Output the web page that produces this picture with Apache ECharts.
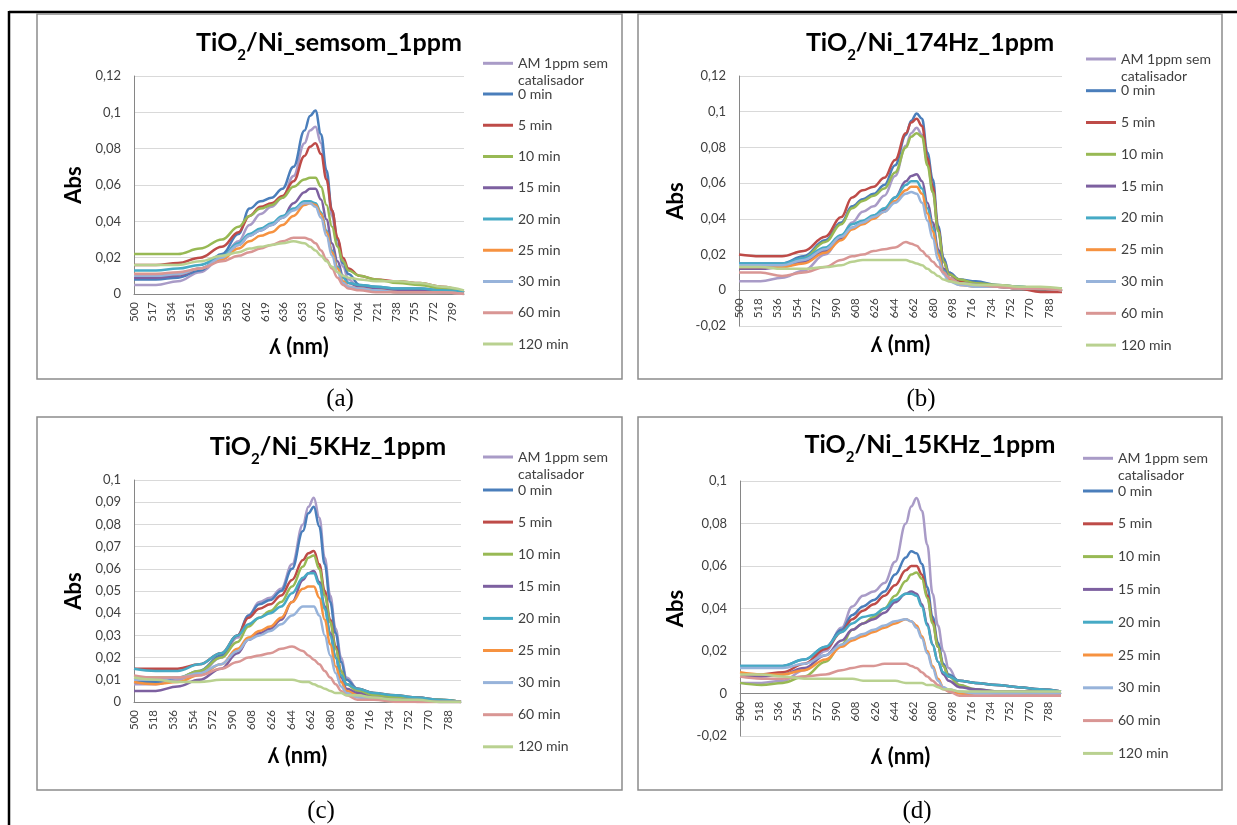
<!DOCTYPE html>
<html><head><meta charset="utf-8">
<script src="https://cdn.jsdelivr.net/npm/echarts@6/dist/echarts.min.js"></script>
<style>html,body{margin:0;padding:0;background:#fff}#c{width:1237px;height:825px}</style>
</head><body><div id="c"></div>
<script>
// ---------- DATA ----------
const wavelengths = [500,520,540,560,580,595,605,615,625,635,645,655,660,665,670,675,680,685,690,695,705,720,740,760,780,800];
const seriesNames = ['AM 1ppm sem catalisador','0 min','5 min','10 min','15 min','20 min','25 min','30 min','60 min','120 min'];
const panelNames = ['semsom','174Hz','5KHz','15KHz'];
const ticksA = [500,517,534,551,568,585,602,619,636,653,670,687,704,721,738,755,772,789];
const ticksBCD = [500,518,536,554,572,590,608,626,644,662,680,698,716,734,752,770,788];

// (a) semsom
const A_AM  = [.005,.005,.007,.012,.020,.029,.038,.044,.048,.053,.065,.083,.090,.092,.083,.064,.043,.027,.015,.008,.003,.002,.001,.001,.001,0];
const A_0   = [.008,.008,.009,.013,.022,.033,.047,.051,.053,.058,.070,.090,.098,.101,.088,.068,.046,.030,.017,.011,.005,.004,.003,.003,.002,.001];
const A_5   = [.016,.016,.017,.020,.026,.034,.043,.048,.050,.054,.062,.076,.081,.083,.077,.063,.046,.031,.020,.014,.010,.008,.007,.006,.004,.001];
const A_10  = [.022,.022,.022,.025,.030,.037,.043,.047,.049,.053,.059,.063,.064,.064,.059,.049,.037,.026,.018,.013,.010,.008,.006,.005,.003,.001];
const A_15  = [.009,.009,.010,.014,.020,.027,.032,.035,.038,.042,.050,.056,.058,.058,.052,.041,.028,.018,.010,.006,.004,.003,.002,.002,.001,.001];
const A_20  = [.013,.013,.014,.016,.021,.028,.033,.036,.039,.043,.047,.051,.051,.050,.045,.035,.024,.015,.009,.006,.005,.004,.003,.003,.002,.001];
const A_25  = [.011,.011,.011,.014,.019,.025,.029,.032,.034,.038,.043,.049,.050,.049,.044,.034,.023,.014,.007,.004,.003,.002,.001,.001,.001,0];
const A_30  = [.010,.010,.011,.014,.020,.027,.032,.035,.038,.042,.046,.050,.050,.048,.042,.032,.021,.012,.006,.004,.003,.002,.001,.001,.001,0];
const A_60  = [.011,.011,.012,.014,.018,.021,.023,.025,.027,.029,.031,.031,.030,.028,.024,.019,.014,.009,.005,.003,.002,.001,.001,.001,.001,0];
const A_120 = [.016,.016,.016,.018,.021,.023,.025,.026,.027,.028,.029,.028,.026,.024,.021,.018,.015,.012,.010,.009,.008,.007,.007,.006,.004,.002];

// (b) 174Hz
const B_AM  = [.005,.005,.007,.011,.020,.030,.038,.044,.047,.053,.064,.081,.088,.091,.087,.072,.055,.034,.018,.010,.006,.004,.002,.001,.001,0];
const B_0   = [.015,.015,.015,.019,.028,.038,.047,.051,.054,.059,.070,.087,.095,.099,.096,.077,.062,.036,.018,.010,.006,.005,.003,.002,.001,.001];
const B_5   = [.020,.019,.019,.022,.030,.041,.052,.056,.058,.063,.073,.088,.094,.096,.092,.074,.058,.034,.016,.009,.005,.004,.002,.001,-.001,-.001];
const B_10  = [.013,.013,.014,.018,.027,.037,.046,.050,.053,.057,.066,.080,.086,.088,.086,.070,.055,.033,.016,.009,.006,.004,.003,.002,.001,.001];
const B_15  = [.012,.012,.013,.016,.022,.029,.035,.038,.041,.045,.052,.061,.064,.065,.061,.049,.038,.023,.012,.007,.004,.003,.002,.001,.001,0];
const B_20  = [.015,.015,.015,.018,.024,.031,.037,.039,.042,.046,.052,.059,.061,.061,.057,.046,.035,.021,.011,.007,.004,.003,.002,.002,.001,.001];
const B_25  = [.013,.013,.013,.015,.021,.028,.034,.037,.040,.044,.050,.056,.058,.058,.054,.043,.033,.020,.010,.006,.003,.002,.002,.001,.001,0];
const B_30  = [.014,.014,.014,.017,.023,.030,.035,.038,.041,.044,.049,.054,.055,.054,.049,.039,.029,.017,.009,.005,.003,.002,.002,.001,.001,0];
const B_60  = [.010,.010,.008,.010,.013,.017,.019,.020,.022,.023,.024,.027,.026,.025,.022,.019,.016,.013,.010,.007,.004,.003,.002,.001,.001,0];
const B_120 = [.013,.013,.012,.012,.013,.014,.016,.017,.017,.017,.017,.017,.016,.015,.014,.012,.010,.008,.006,.005,.004,.003,.003,.002,.002,.001];

// (c) 5KHz
const C_AM  = [.008,.008,.010,.013,.020,.029,.039,.045,.047,.051,.062,.080,.088,.092,.083,.065,.048,.033,.020,.011,.006,.003,.001,.001,0,0];
const C_0   = [.009,.009,.011,.014,.021,.030,.039,.044,.046,.050,.060,.077,.085,.088,.079,.062,.045,.031,.018,.010,.006,.004,.002,.002,.001,0];
const C_5   = [.015,.015,.015,.017,.022,.030,.038,.042,.044,.048,.055,.064,.067,.068,.062,.050,.037,.025,.014,.008,.006,.004,.003,.002,.001,0];
const C_10  = [.011,.011,.011,.014,.020,.027,.034,.038,.041,.045,.052,.061,.065,.066,.060,.048,.036,.024,.014,.008,.005,.003,.002,.001,.001,0];
const C_15  = [.005,.005,.007,.010,.015,.022,.028,.031,.033,.037,.045,.055,.058,.059,.054,.043,.031,.020,.011,.006,.004,.002,.001,.001,0,0];
const C_20  = [.015,.014,.014,.017,.022,.030,.035,.038,.040,.043,.049,.056,.058,.058,.053,.042,.030,.020,.012,.008,.006,.004,.003,.002,.001,0];
const C_25  = [.009,.008,.009,.012,.017,.024,.029,.032,.034,.038,.045,.051,.052,.052,.047,.037,.026,.016,.009,.005,.003,.001,.001,0,0,0];
const C_30  = [.010,.010,.011,.013,.017,.023,.028,.030,.032,.035,.039,.043,.043,.043,.039,.030,.021,.013,.007,.004,.002,.001,.001,0,0,0];
const C_60  = [.012,.011,.011,.012,.015,.018,.020,.021,.022,.024,.025,.023,.021,.019,.017,.014,.011,.008,.005,.003,.001,.001,0,0,0,0];
const C_120 = [.011,.010,.009,.009,.010,.010,.010,.010,.010,.010,.010,.009,.009,.008,.007,.006,.005,.004,.004,.003,.003,.002,.001,.001,0,0];

// (d) 15KHz
const D_AM  = [.005,.005,.006,.011,.020,.031,.041,.046,.048,.052,.062,.080,.088,.092,.086,.070,.047,.032,.020,.012,.004,.001,0,0,0,0];
const D_0   = [.013,.013,.013,.016,.022,.030,.037,.041,.044,.048,.056,.064,.067,.066,.061,.050,.036,.024,.014,.009,.006,.005,.004,.003,.002,.001];
const D_5   = [.009,.009,.010,.014,.021,.029,.035,.039,.042,.046,.051,.058,.060,.060,.056,.046,.034,.022,.013,.008,.006,.005,.004,.003,.002,.001];
const D_10  = [.005,.004,.005,.008,.015,.023,.030,.033,.036,.040,.046,.053,.056,.057,.054,.045,.033,.022,.013,.008,.004,.002,.001,.001,.001,.001];
const D_15  = [.008,.008,.009,.012,.018,.025,.030,.033,.035,.038,.043,.047,.048,.047,.042,.033,.023,.015,.009,.006,.003,.002,.001,.001,.001,0];
const D_20  = [.013,.013,.013,.016,.022,.029,.033,.036,.037,.040,.044,.047,.047,.046,.041,.032,.023,.015,.010,.008,.006,.005,.004,.003,.002,.001];
const D_25  = [.010,.009,.009,.011,.016,.022,.025,.027,.029,.031,.033,.035,.034,.032,.027,.020,.013,.007,.003,.001,0,-.001,-.001,-.001,0,0];
const D_30  = [.012,.012,.012,.014,.018,.023,.026,.028,.030,.032,.034,.035,.034,.031,.026,.019,.012,.006,.003,.002,.001,0,0,0,0,0];
const D_60  = [.008,.007,.007,.008,.009,.011,.012,.013,.013,.014,.014,.014,.013,.012,.010,.008,.006,.004,.002,.001,-.001,-.001,-.001,-.001,-.001,-.001];
const D_120 = [.009,.009,.008,.007,.007,.007,.007,.006,.006,.006,.006,.005,.005,.005,.005,.004,.004,.003,.002,.002,.001,.001,.001,.001,.001,.001];

// ---------- STYLE / LAYOUT ----------
const colors = ['#A99BC7','#4A7EBB','#BE4B48','#98B954','#7D60A0','#46AAC5','#F69240','#97B3DA','#D99694','#B9D190'];
const panelSeries = [
  [A_AM,A_0,A_5,A_10,A_15,A_20,A_25,A_30,A_60,A_120],
  [B_AM,B_0,B_5,B_10,B_15,B_20,B_25,B_30,B_60,B_120],
  [C_AM,C_0,C_5,C_10,C_15,C_20,C_25,C_30,C_60,C_120],
  [D_AM,D_0,D_5,D_10,D_15,D_20,D_25,D_30,D_60,D_120]
];
const FONT = 'Lato, "Liberation Sans", "DejaVu Sans", sans-serif';
// xOff: shift of the horizontal axis (line + labels) up to the y = 0 line, as in the reference
const layout = [
  {grid:{left:134,top:76,width:330,height:218}, ticks:ticksA, y:[0,0.12,0.02], title:[329,30], yGap:49, xGap:42, xOff:0, leg1:[483,37.8], leg2:[483,85.5,14.25], box:[37,14,585,365], label:[340,399,'(a)']},
  {grid:{left:739,top:76,width:323,height:250}, ticks:ticksBCD, y:[-0.02,0.12,0.02], title:[930,30], yGap:52, xGap:44, xOff:-35.7, leg1:[1086,33.5], leg2:[1086,82.2,14.8], box:[638,14,584,365], label:[921,399,'(b)']},
  {grid:{left:134,top:480,width:327,height:222}, ticks:ticksBCD, y:[0,0.1,0.01], title:[328,434], yGap:49, xGap:43, xOff:0, leg1:[483,431.5], leg2:[483,481.5,15.1], box:[37,417,585,373], label:[321,811,'(c)']},
  {grid:{left:740,top:481,width:321,height:255}, ticks:ticksBCD, y:[-0.02,0.1,0.02], title:[930,432], yGap:53, xGap:52, xOff:-42.5, leg1:[1083,432.8], leg2:[1083,482.5,15.8], box:[638,417,584,373], label:[917,811,'(d)']}
];

const fmtY = v => v === 0 ? '0' : String(parseFloat(v.toFixed(3))).replace('.', ',');
const legText = {fontFamily:FONT, fontSize:14, color:'#404040', lineHeight:17};

const option = {
  animation:false,
  backgroundColor:'#fff',
  title: layout.map((L,i)=>({
    text:'{t|TiO}{s|2}{t|/Ni_' + panelNames[i] + '_1ppm}',
    left:L.title[0], top:L.title[1], textAlign:'center', padding:0,
    textStyle:{rich:{
      t:{fontFamily:FONT,fontSize:25,fontWeight:'bold',color:'#000',lineHeight:28,verticalAlign:'top'},
      s:{fontFamily:FONT,fontSize:15,fontWeight:'bold',color:'#000',lineHeight:33,verticalAlign:'bottom'}
    }}
  })),
  legend: layout.flatMap(L=>[
    {data:[seriesNames[0]], orient:'vertical', left:L.leg1[0], top:L.leg1[1], padding:0,
     itemWidth:30, itemHeight:3, icon:'rect', selectedMode:false,
     formatter:()=>'\nAM 1ppm sem\ncatalisador', textStyle:legText},
    {data:seriesNames.slice(1), orient:'vertical', left:L.leg2[0], top:L.leg2[1], padding:0,
     itemGap:L.leg2[2], itemWidth:30, itemHeight:3, icon:'rect', selectedMode:false, textStyle:legText}
  ]),
  grid: layout.map(L=>Object.assign({outerBoundsMode:'none'}, L.grid)),
  xAxis: layout.map((L,i)=>({
    type:'value', gridIndex:i, min:500, max:800, offset:L.xOff,
    name:'ʎ (nm)', nameLocation:'middle', nameGap:L.xGap, nameMoveOverlap:false,
    nameTextStyle:{fontFamily:FONT,fontSize:22,fontWeight:'bold',color:'#000'},
    axisLine:{show:true,onZero:false,lineStyle:{color:'#868686',width:1}},
    axisTick:{show:false}, splitLine:{show:false},
    axisLabel:{customValues:L.ticks, rotate:90, fontFamily:FONT, fontSize:11.5, color:'#404040', margin:8}
  })),
  yAxis: layout.map((L,i)=>({
    type:'value', gridIndex:i, min:L.y[0], max:L.y[1], interval:L.y[2],
    name:'Abs', nameLocation:'middle', nameRotate:90, nameGap:L.yGap, nameMoveOverlap:false,
    nameTextStyle:{fontFamily:FONT,fontSize:22,fontWeight:'bold',color:'#000'},
    axisLine:{show:true,lineStyle:{color:'#868686',width:1}},
    axisTick:{show:false},
    axisLabel:{formatter:fmtY, fontFamily:FONT, fontSize:13, color:'#404040', margin:13},
    splitLine:{show:true,lineStyle:{color:'#d9d9d9',width:1}}
  })),
  series: panelSeries.flatMap((arrs,i)=>arrs.map((vals,j)=>({
    type:'line', name:seriesNames[j], xAxisIndex:i, yAxisIndex:i,
    data: wavelengths.map((w,k)=>[w, vals[k]]),
    showSymbol:false, symbol:'none', smooth:0.4, smoothMonotone:'x',
    lineStyle:{width:2.5,color:colors[j]}, itemStyle:{color:colors[j]},
    emphasis:{disabled:true}
  }))),
  graphic: [
    {type:'line', shape:{x1:9,y1:12,x2:1237,y2:12}, style:{stroke:'#000',lineWidth:2.5}, silent:true},
    {type:'line', shape:{x1:9,y1:11,x2:9,y2:825}, style:{stroke:'#000',lineWidth:2.5}, silent:true},
    ...layout.map(L=>({type:'rect', shape:{x:L.box[0],y:L.box[1],width:L.box[2],height:L.box[3]},
      style:{fill:'none',stroke:'#8c8c8c',lineWidth:1.5}, silent:true})),
    ...layout.map(L=>({type:'text', x:L.label[0], y:L.label[1],
      style:{text:L.label[2], fontSize:25, fontFamily:'"Liberation Serif", "Times New Roman", serif', fill:'#000', align:'center', verticalAlign:'middle'}, silent:true}))
  ]
};
const chart = echarts.init(document.getElementById('c'));
chart.setOption(option);
</script>
</body></html>
